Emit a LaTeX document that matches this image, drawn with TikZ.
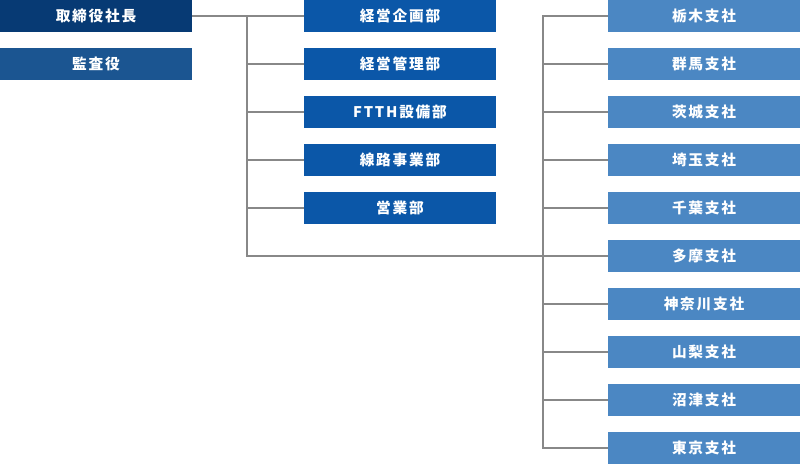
\documentclass[tikz,border=0pt]{standalone}
\usepackage{fontspec}
\newfontfamily\jp{Noto Sans CJK JP}[LetterSpace=12]
\usetikzlibrary{positioning}
\definecolor{morkbla}{HTML}{073A74}
\definecolor{revbla}{HTML}{1B5591}
\definecolor{avdbla}{HTML}{0B57A8}
\definecolor{ljusbla}{HTML}{4B87C3}
\definecolor{gra}{HTML}{888888}
\tikzset{
    ruta/.style={rectangle, inner sep=0pt, outer sep=0pt, minimum width=144pt, minimum height=24pt,
                 text=white, font=\jp\bfseries\fontsize{11pt}{13pt}\selectfont},
    styr/.style={ruta, fill=morkbla},
    revisor/.style={ruta, fill=revbla},
    avd/.style={ruta, fill=avdbla},
    filial/.style={ruta, fill=ljusbla},
    linje/.style={draw=gra, line width=1.5pt}}

\begin{document}
\begin{tikzpicture}[node distance=12pt]
    \useasboundingbox (0,0) rectangle (600pt,-348pt);
    % ledning
    \node[styr, anchor=north west] (president) at (0,0) {取締役社長};
    \node[revisor, below=of president] (auditor) {監査役};
    % avdelningar
    \node[avd, anchor=north west] (keiei) at (228pt,0) {経営企画部};
    \node[avd, below=of keiei] (kanri) {経営管理部};
    \node[avd, below=of kanri] (ftth) {FTTH設備部};
    \node[avd, below=of ftth] (senro) {線路事業部};
    \node[avd, below=of senro] (eigyo) {営業部};
    % filialer
    \node[filial, anchor=north west] (tochigi) at (456pt,0) {栃木支社};
    \node[filial, below=of tochigi] (gunma) {群馬支社};
    \node[filial, below=of gunma] (ibaraki) {茨城支社};
    \node[filial, below=of ibaraki] (saitama) {埼玉支社};
    \node[filial, below=of saitama] (chiba) {千葉支社};
    \node[filial, below=of chiba] (tama) {多摩支社};
    \node[filial, below=of tama] (kanagawa) {神奈川支社};
    \node[filial, below=of kanagawa] (yamanashi) {山梨支社};
    \node[filial, below=of yamanashi] (numazu) {沼津支社};
    \node[filial, below=of numazu] (tokyo) {東京支社};

    \coordinate (lknut) at (185.25pt,0);
    \coordinate (rknut) at (407.25pt,0);
    \draw[linje] (president.east) -- (keiei.west);
    \draw[linje] (lknut |- president.east) -- (lknut |- tama.west) -- (tama.west);
    \foreach \n in {kanri,ftth,senro,eigyo}
        \draw[linje] (lknut |- \n.west) -- (\n.west);
    \draw[linje] (tochigi.west) -- (rknut |- tochigi.west) -- (rknut |- tokyo.west) -- (tokyo.west);
    \foreach \n in {gunma,ibaraki,saitama,chiba,kanagawa,yamanashi,numazu}
        \draw[linje] (rknut |- \n.west) -- (\n.west);
\end{tikzpicture}
\end{document}
